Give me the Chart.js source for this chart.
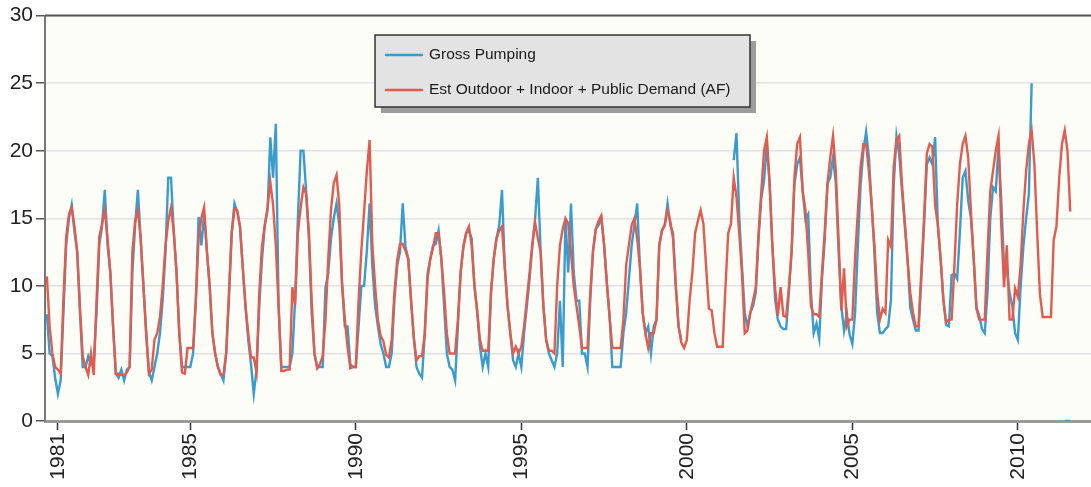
<!DOCTYPE html>
<html>
<head>
<meta charset="utf-8">
<title>Gross Pumping vs Estimated Demand</title>
<script src="https://cdn.jsdelivr.net/npm/chart.js@4.4.0/dist/chart.umd.min.js"></script>
<style>
    html, body { margin: 0; padding: 0; background: #ffffff; }
    #wrap { width: 1091px; height: 487px; position: relative; }
</style>
</head>
<body>
<div id="wrap"><canvas id="pumpingChart"></canvas></div>
<script>
// Monthly series, first value = September 1980
const firstYear = 1980;
const firstMonth = 8;

const seriesNames = ['Gross Pumping', 'Est Outdoor + Indoor + Public Demand (AF)'];
const tickYears = [1981, 1985, 1990, 1995, 2000, 2005, 2010];
const yTicks = [0, 5, 10, 15, 20, 25, 30];

const gross = [
    7.9, 5.0, 4.8, 3.2,                                             // 1980 Sep-Dec
    2.0, 3.0, 8.0, 13.0, 15.0, 16.0, 14.0, 12.5, 8.0, 4.0, 4.0, 4.8, // 1981
    4.2, 4.5, 8.0, 13.0, 14.4, 17.1, 13.0, 11.0, 7.0, 3.5, 3.2, 3.8, // 1982
    3.0, 3.8, 4.0, 11.0, 14.5, 17.1, 13.5, 10.0, 6.5, 3.6, 3.0, 4.0, // 1983
    5.0, 6.5, 9.0, 12.5, 18.0, 18.0, 14.0, 11.0, 6.5, 4.0, 4.0, 4.0, // 1984
    4.0, 5.0, 8.9, 15.1, 13.0, 15.3, 12.6, 10.0, 6.5, 5.0, 4.0, 3.5, // 1985
    3.0, 5.0, 9.0, 13.9, 16.1, 15.5, 14.4, 11.4, 8.5, 6.0, 4.2, 2.0, // 1986
    3.8, 8.5, 12.0, 14.5, 15.6, 21.0, 18.0, 22.0, 8.5, 4.0, 4.0, 4.0, // 1987
    4.0, 5.0, 9.0, 15.0, 20.0, 20.0, 17.0, 13.5, 8.0, 5.0, 4.0, 4.0, // 1988
    4.0, 9.9, 10.9, 13.5, 15.0, 16.1, 14.5, 10.2, 7.0, 7.0, 4.2, 4.0, // 1989
    4.0, 7.0, 10.0, 10.0, 12.6, 16.1, 11.4, 8.5, 7.0, 5.7, 5.0, 4.0, // 1990
    4.0, 5.0, 9.0, 11.5, 12.5, 16.1, 12.9, 12.0, 9.0, 6.2, 4.0, 3.5, // 1991
    3.2, 6.5, 10.9, 12.0, 13.0, 13.1, 14.1, 12.0, 8.5, 5.0, 4.0, 3.8, // 1992
    3.0, 7.0, 11.0, 12.9, 13.9, 14.1, 13.5, 10.0, 8.0, 5.5, 4.0, 5.0, // 1993
    4.0, 9.5, 12.0, 13.5, 14.5, 17.1, 11.4, 8.5, 6.5, 4.5, 4.0, 5.0, // 1994
    4.0, 6.5, 8.5, 10.5, 13.0, 15.0, 18.0, 12.5, 8.5, 6.0, 5.0, 4.5, // 1995
    4.0, 5.0, 8.9, 4.0, 15.0, 11.0, 16.1, 11.0, 8.9, 8.9, 5.0, 5.0,  // 1996
    4.0, 9.0, 12.6, 14.2, 14.5, 15.0, 13.1, 10.2, 7.7, 4.0, 4.0, 4.0, // 1997
    4.0, 6.5, 8.0, 10.5, 13.0, 14.5, 16.1, 11.4, 8.0, 6.5, 7.0, 5.0, // 1998
    7.0, 7.5, 13.0, 14.1, 14.5, 16.1, 14.5, 13.9, 10.0, 7.0, 6.0, null, // 1999
    null, null, null, null, null, null, null, null, null, null, null, null, // 2000
    null, null, null, null, null, 19.3, 21.3, 15.1, 11.4, 8.0, 7.0, 8.0, // 2001
    8.5, 9.5, 13.5, 16.5, 17.8, 20.5, 17.6, 13.0, 9.0, 7.5, 7.0, 6.8, // 2002
    6.8, 9.5, 12.6, 17.5, 19.0, 19.5, 17.0, 14.9, 15.3, 9.5, 6.5, 7.2, // 2003
    6.1, 10.5, 13.5, 17.6, 18.0, 19.5, 17.6, 12.6, 8.5, 6.7, 8.0, 6.4, // 2004
    5.7, 8.0, 13.0, 17.5, 20.0, 21.4, 19.5, 16.0, 12.5, 8.0, 6.5, 6.5, // 2005
    6.8, 7.0, 9.0, 17.5, 21.1, 19.7, 17.0, 14.5, 12.0, 8.4, 7.5, 6.7, // 2006
    6.7, 10.5, 14.5, 19.0, 19.5, 19.0, 21.0, 14.5, 12.0, 9.0, 7.1, 7.0, // 2007
    10.8, 10.9, 10.5, 14.0, 18.0, 18.5, 16.3, 15.0, 12.0, 8.4, 7.8, 6.8, // 2008
    6.5, 9.5, 15.0, 17.3, 17.0, 20.3, 16.3, 11.4, 11.2, 9.5, 8.5, 6.5, // 2009
    6.0, 9.9, 12.9, 15.0, 16.8, 25.0, null, null, null, null, null, null, // 2010
    null, null, null, null, null, 0, 0, 0                            // 2011 Jan-Aug
];

const demand = [
    10.7, 7.0, 5.0, 4.0,                                            // 1980 Sep-Dec
    3.8, 3.5, 9.0, 13.6, 15.3, 15.8, 14.4, 12.5, 8.4, 4.8, 4.0, 3.4, // 1981
    5.0, 3.4, 8.9, 13.6, 14.6, 15.6, 13.5, 11.0, 7.0, 3.5, 3.5, 3.4, // 1982
    3.4, 3.6, 4.0, 12.5, 14.8, 15.6, 13.5, 10.0, 6.5, 3.5, 3.8, 6.0, // 1983
    6.5, 7.7, 10.0, 13.0, 14.8, 15.8, 14.0, 11.0, 6.5, 3.6, 3.5, 5.4, // 1984
    5.4, 5.4, 8.9, 13.5, 15.0, 15.8, 12.6, 10.0, 6.5, 5.0, 4.0, 3.4, // 1985
    3.4, 5.0, 9.5, 13.9, 15.7, 15.6, 14.4, 11.4, 8.5, 6.5, 4.7, 4.7, // 1986
    3.6, 9.5, 13.0, 14.5, 15.8, 17.7, 16.0, 13.0, 8.5, 3.7, 3.7, 3.8, // 1987
    3.8, 9.9, 8.6, 13.9, 15.8, 17.3, 16.8, 13.9, 8.9, 5.0, 3.9, 4.2, // 1988
    4.8, 7.5, 12.0, 15.6, 17.6, 18.2, 16.0, 10.2, 7.5, 5.5, 3.9, 4.0, // 1989
    4.0, 8.9, 12.6, 15.5, 18.5, 20.8, 13.0, 10.0, 7.5, 6.3, 5.9, 4.9, // 1990
    4.7, 6.0, 9.5, 11.9, 13.1, 13.1, 12.6, 12.0, 9.0, 6.2, 4.5, 4.8, // 1991
    4.8, 6.5, 10.5, 12.0, 12.8, 13.9, 13.9, 12.0, 9.5, 6.5, 5.0, 5.0, // 1992
    5.0, 7.5, 11.0, 12.9, 13.9, 14.4, 13.0, 10.0, 8.2, 6.0, 5.2, 5.2, // 1993
    5.2, 9.5, 12.0, 13.5, 14.1, 14.4, 11.4, 8.5, 6.5, 5.0, 5.5, 5.0, // 1994
    5.5, 7.0, 9.0, 11.0, 13.1, 14.7, 13.5, 12.5, 8.5, 6.0, 5.2, 5.2, // 1995
    5.0, 10.0, 13.0, 14.2, 15.0, 14.6, 12.5, 10.0, 8.5, 7.0, 5.4, 5.4, // 1996
    5.4, 9.5, 12.6, 14.2, 14.8, 15.2, 13.0, 10.2, 7.7, 5.4, 5.4, 5.4, // 1997
    5.4, 7.5, 11.5, 13.0, 14.5, 15.0, 13.5, 11.4, 8.0, 6.5, 5.4, 6.5, // 1998
    6.5, 7.5, 13.0, 14.1, 14.5, 15.6, 14.8, 13.5, 10.0, 7.0, 5.8, 5.4, // 1999
    6.0, 8.9, 11.0, 13.9, 14.8, 15.6, 14.6, 11.4, 8.3, 8.2, 6.5, 5.5, // 2000
    5.5, 5.5, 9.9, 13.9, 14.6, 18.0, 16.6, 13.9, 10.9, 6.5, 6.7, 8.0, // 2001
    8.9, 9.9, 13.9, 17.0, 20.0, 21.0, 17.6, 13.0, 9.8, 7.8, 9.9, 7.8, // 2002
    7.7, 9.9, 12.6, 18.0, 20.5, 21.0, 17.0, 15.6, 12.5, 8.5, 7.9, 7.9, // 2003
    7.7, 11.0, 14.0, 17.6, 19.5, 21.1, 18.5, 13.5, 8.2, 11.3, 7.0, 7.5, // 2004
    7.5, 12.1, 15.5, 18.8, 20.5, 20.5, 18.5, 16.0, 13.0, 9.5, 7.5, 8.3, // 2005
    8.0, 13.4, 12.9, 18.8, 20.8, 21.1, 17.5, 14.8, 12.0, 9.5, 8.0, 7.0, // 2006
    7.0, 11.0, 15.0, 19.8, 20.5, 20.3, 16.0, 14.5, 12.0, 9.0, 7.3, 7.5, // 2007
    7.5, 11.5, 16.0, 19.0, 20.5, 21.1, 19.5, 15.5, 12.0, 8.3, 7.5, 7.5, // 2008
    7.5, 12.5, 17.0, 18.5, 20.0, 21.1, 14.4, 9.9, 13.0, 7.5, 7.5, 9.8, // 2009
    9.2, 11.5, 15.5, 18.5, 20.5, 21.5, 19.0, 14.0, 9.4, 7.7, 7.7, 7.7, // 2010
    7.7, 13.4, 14.4, 18.0, 20.5, 21.5, 20.0, 15.5                    // 2011 Jan-Aug
];

document.addEventListener('DOMContentLoaded', function() {
    const fontFamily = '"Liberation Sans", Arial, Helvetica, sans-serif';

    // 1. Turn the monthly lists into {x, y} points (x = decimal year)
    const toPoints = (values) => values.map((v, i) => ({ x: firstYear + (firstMonth + i) / 12, y: v }));

    // 2. Plot background, top frame line and the boxed legend
    const framePlugin = {
        id: 'frame',
        beforeDraw(chart) {
            const { ctx, chartArea: a } = chart;
            ctx.save();
            ctx.fillStyle = '#ffffff';
            ctx.fillRect(0, 0, chart.width, chart.height);
            ctx.fillStyle = '#fdfdf7';
            ctx.fillRect(a.left, a.top, a.right - a.left, a.bottom - a.top);
            ctx.restore();
        },
        afterDraw(chart) {
            const { ctx, chartArea: a } = chart;
            ctx.save();
            ctx.strokeStyle = '#555555';
            ctx.lineWidth = 2;
            ctx.beginPath();
            ctx.moveTo(a.left, a.top);
            ctx.lineTo(a.right, a.top);
            ctx.stroke();

            // legend box with drop shadow
            const box = { x: 375, y: 35, w: 375, h: 72 };
            ctx.fillStyle = '#9c9c9c';
            ctx.fillRect(box.x + 6, box.y + 6, box.w, box.h);
            ctx.fillStyle = '#e3e3e3';
            ctx.fillRect(box.x, box.y, box.w, box.h);
            ctx.strokeStyle = '#333333';
            ctx.lineWidth = 1.5;
            ctx.strokeRect(box.x, box.y, box.w, box.h);

            ctx.font = '15.5px ' + fontFamily;
            ctx.textBaseline = 'middle';
            chart.data.datasets.forEach((ds, i) => {
                const rowY = box.y + 20 + i * 35;
                ctx.strokeStyle = ds.borderColor;
                ctx.lineWidth = 2.5;
                ctx.beginPath();
                ctx.moveTo(box.x + 10, rowY);
                ctx.lineTo(box.x + 48, rowY);
                ctx.stroke();
                ctx.fillStyle = '#1a1a1a';
                ctx.fillText(ds.label, box.x + 54, rowY);
            });
            ctx.restore();
        }
    };

    const ctx = document.getElementById('pumpingChart').getContext('2d');

    const config = {
        type: 'line',
        data: {
            datasets: [{
                label: seriesNames[0],
                data: toPoints(gross),
                borderColor: '#3a9bcd',
                borderWidth: 2.4,
                pointRadius: 0,
                tension: 0,
                spanGaps: false,
                order: 2
            }, {
                label: seriesNames[1],
                data: toPoints(demand),
                borderColor: '#e25b4f',
                borderWidth: 2.4,
                pointRadius: 0,
                tension: 0,
                spanGaps: false,
                order: 1
            }]
        },
        options: {
            responsive: true,
            maintainAspectRatio: false,
            animation: false,
            devicePixelRatio: 1,
            layout: { padding: { top: 15, right: 0, bottom: 0, left: 0 } },
            scales: {
                x: {
                    type: 'linear',
                    min: 1980.61,
                    max: 2012.21,
                    afterBuildTicks: (scale) => { scale.ticks = tickYears.map(v => ({ value: v })); },
                    afterFit: (scale) => { scale.height = 66; },
                    ticks: {
                        autoSkip: false,
                        minRotation: 90,
                        maxRotation: 90,
                        padding: 3,
                        color: '#222222',
                        font: { size: 21, family: fontFamily },
                        callback: (v) => String(v)
                    },
                    grid: {
                        drawOnChartArea: false,
                        tickLength: 9,
                        tickColor: '#333333',
                        tickWidth: 1.5
                    },
                    border: { color: '#9a9a9a', width: 3 }
                },
                y: {
                    min: 0,
                    max: 30,
                    afterBuildTicks: (scale) => { scale.ticks = yTicks.map(v => ({ value: v })); },
                    afterFit: (scale) => { scale.width = 45; },
                    ticks: {
                        padding: 3,
                        color: '#222222',
                        font: { size: 21, family: fontFamily }
                    },
                    grid: {
                        color: '#e2e2e2',
                        lineWidth: 1.5,
                        tickLength: 9,
                        tickColor: '#555555',
                        tickWidth: 1.5
                    },
                    border: { color: '#777777', width: 2 }
                }
            },
            plugins: {
                legend: { display: false },
                tooltip: { enabled: false }
            }
        },
        plugins: [framePlugin]
    };

    const pumpingChart = new Chart(ctx, config);
});
</script>
</body>
</html>
